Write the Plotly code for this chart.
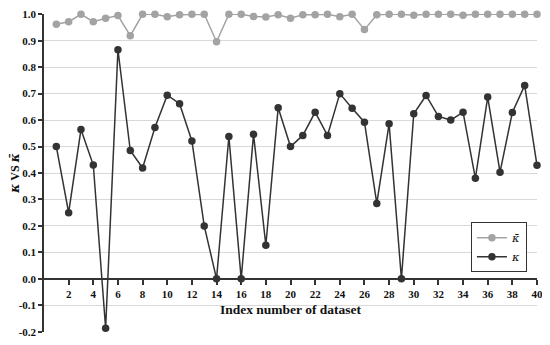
import plotly.graph_objects as go

dataset_index = list(range(1, 41))
kappa_bar = [0.962, 0.972, 1.0, 0.972, 0.985, 0.995, 0.919, 1.0, 1.0, 0.991,
             0.998, 1.0, 1.0, 0.896, 1.0, 1.0, 0.992, 0.99, 0.998, 0.985,
             0.998, 0.998, 1.0, 0.991, 1.0, 0.942, 0.998, 1.0, 1.0, 0.996,
             1.0, 1.0, 1.0, 0.996, 1.0, 1.0, 1.0, 1.0, 1.0, 1.0]
kappa = [0.50, 0.25, 0.564, 0.43, -0.187, 0.866, 0.485, 0.419, 0.572, 0.694,
         0.662, 0.521, 0.20, 0.0, 0.538, 0.0, 0.546, 0.127, 0.647, 0.50,
         0.542, 0.63, 0.542, 0.70, 0.645, 0.592, 0.285, 0.586, 0.0, 0.624,
         0.693, 0.614, 0.60, 0.63, 0.38, 0.687, 0.403, 0.629, 0.731, 0.429]
x_tick_vals = list(range(2, 41, 2))
y_tick_vals = [-0.2, -0.1, 0.0, 0.1, 0.2, 0.3, 0.4, 0.5, 0.6, 0.7, 0.8, 0.9, 1.0]
y_tick_text = ["-0.2", "-0.1", "0.0", "0.1", "0.2", "0.3", "0.4", "0.5", "0.6", "0.7", "0.8", "0.9", "1.0"]

FONT = "Liberation Serif"
dark = "#333333"
gray = "#a3a3a3"

k_bar = '<span style="font-family:DejaVu Serif"><i>\u03ba\u0304</i></span>'
k_plain = '<span style="font-family:DejaVu Serif"><i>\u03ba</i></span>'

fig = go.Figure()
fig.add_trace(go.Scatter(
    x=dataset_index, y=kappa_bar, mode="lines+markers", name=k_bar,
    line=dict(color=gray, width=1.5), marker=dict(color=gray, size=7.5),
    cliponaxis=False))
fig.add_trace(go.Scatter(
    x=dataset_index, y=kappa, mode="lines+markers", name=k_plain,
    line=dict(color=dark, width=1.5), marker=dict(color=dark, size=7.5),
    cliponaxis=False))

y0, y1 = -0.2, 1.0
fig.update_layout(
    width=542, height=337,
    margin=dict(l=36, r=13, t=6, b=13, autoexpand=False),
    paper_bgcolor="white", plot_bgcolor="white",
    font=dict(family=FONT, color="#111111"),
    showlegend=True,
    legend=dict(x=0.866, y=0.345, xanchor="left", yanchor="top",
                bordercolor=dark, borderwidth=1, bgcolor="white",
                font=dict(family=FONT, size=11.5, color="#111111"),
                itemwidth=30, tracegroupgap=0),
    xaxis=dict(
        range=[0, 40], anchor="free", position=(0 - y0) / (y1 - y0),
        automargin=False,
        showgrid=False, zeroline=False,
        showline=True, linecolor=dark, linewidth=2,
        ticks="outside", ticklen=5, tickwidth=1.5, tickcolor=dark,
        tickvals=x_tick_vals,
        tickfont=dict(family=FONT, size=11, color="#111111", weight="bold"),
        title=dict(text="<b>Index number of dataset</b>", standoff=4,
                   font=dict(family=FONT, size=13.5, color="#111111")),
    ),
    yaxis=dict(
        range=[y0 - 0.001, y1 + 0.001],
        automargin=False,
        showgrid=True, gridcolor="#d9d9d9", gridwidth=1,
        zeroline=False,
        showline=True, linecolor=dark, linewidth=1.5,
        ticks="outside", ticklen=4, tickwidth=1.5, tickcolor=dark,
        tickvals=y_tick_vals, ticktext=y_tick_text,
        tickfont=dict(family=FONT, size=11, color="#111111", weight="bold"),
        title=dict(text="<b>" + k_plain + " VS " + k_bar + "</b>", standoff=9,
                   font=dict(family=FONT, size=12, color="#111111")),
    ),
)
fig.write_html("out.html")
